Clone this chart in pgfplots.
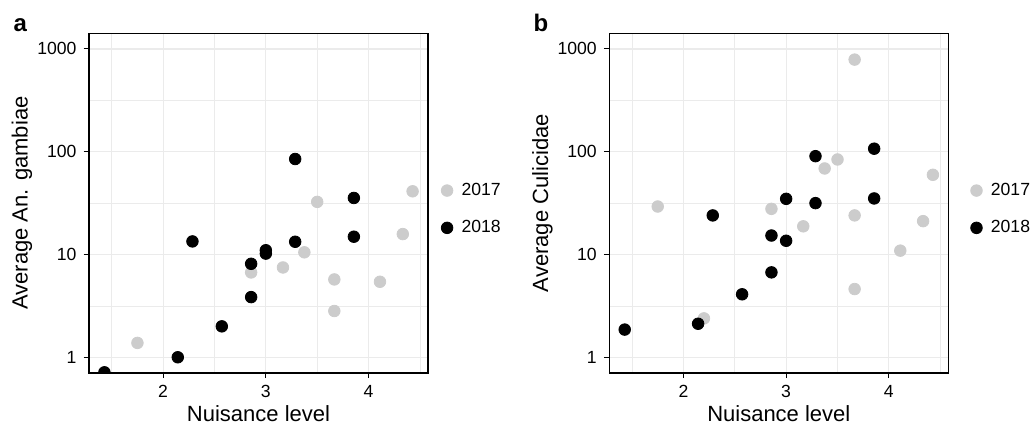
\documentclass[border=0pt]{standalone}
\usepackage{fontspec}
\setmainfont{Liberation Sans}
\usepackage{pgfplots}
\pgfplotsset{compat=1.18}
\definecolor{c17}{RGB}{204,204,204}
\definecolor{gridc}{RGB}{235,235,235}
\pgfplotsset{
  panel/.style={
    width=169.5pt, height=169.6pt, scale only axis,
    xmin=1.2786, xmax=4.5786, ymin=0.70795, ymax=1412.5,
    xtick={2,3,4}, xticklabels={2,3,4},
    ytick={1,10,100,1000}, yticklabels={1,10,100,1000},
    minor xtick={1.5,2.5,3.5,4.5},
    minor ytick={3.1623,31.623,316.23},
    grid=both,
    major grid style={draw=gridc, line width=0.6pt},
    minor grid style={draw=gridc, line width=0.35pt},
    tick align=outside, major tick length=2.75pt, minor tick length=0pt,
    tick style={black, line width=0.55pt},
    axis line style={black, line width=0.8pt},
    tick pos=left,
    tick label style={font=\fontsize{8.8pt}{10pt}\selectfont, /pgf/number format/assume math mode=true},
    label style={font=\fontsize{11pt}{13pt}\selectfont},
    xlabel style={at={(axis description cs:0.5,-0.1445)}, anchor=base},
    ylabel style={at={(axis description cs:-0.1808,0.5)}, anchor=base},
    xlabel={Nuisance level},
    clip marker paths=true,
    legend style={draw=none, fill=none, inner sep=0pt, outer sep=0pt,
      font=\fontsize{8.8pt}{10pt}\selectfont, row sep=11pt, column sep=4.3pt,
      nodes={inner sep=0pt}},
    legend cell align=left,
  },
  s17/.style={only marks, mark=*, mark size=2.9pt, color=c17, mark options={draw=none, fill=c17}},
  s18/.style={only marks, mark=*, mark size=2.9pt, color=black, mark options={draw=none, fill=black}},
}
\pgfplotsset{legend image code/.code={\draw[#1] plot coordinates {(0pt,0pt)};}}
\begin{document}
\begin{tikzpicture}
\path[use as bounding box] (0,0) rectangle (516pt,212pt);
\begin{axis}[ymode=log, panel, name=pa, at={(44.5pt,25.65pt)}, anchor=south west,
  ylabel={Average An. gambiae},
  legend style={at={(axis description cs:1,0.482)}, anchor=west, xshift=6.65pt}]
\addplot[s17] coordinates {
(1.75,1.38) (2.857,6.69) (3.1667,7.48) (3.375,10.5) (3.5,32.5)
(3.6667,5.72) (3.6667,2.82) (4.1111,5.43) (4.3333,15.8) (4.4286,41.2)};
\addlegendentry{2017}
\addplot[s18] coordinates {
(1.4286,0.714) (2.1429,1.0) (2.2857,13.4) (2.5714,2.0) (2.857,3.85) (2.857,8.12)
(3.0,11.0) (3.0,10.2) (3.2857,84.9) (3.2857,13.3) (3.857,35.5) (3.857,14.9)};
\addlegendentry{2018}
\end{axis}
\draw[black, line width=0.8pt] (pa.south west) rectangle (pa.north east);
\begin{axis}[ymode=log, panel, name=pb, at={(304.65pt,25.65pt)}, anchor=south west,
  ylabel={Average Culicidae},
  legend style={at={(axis description cs:1,0.482)}, anchor=west, xshift=11.2pt}]
\addplot[s17] coordinates {
(1.75,29.3) (2.2,2.39) (2.857,27.8) (3.1667,18.8) (3.375,68.7) (3.5,84)
(3.6667,787) (3.6667,24) (3.6667,4.61) (4.1111,10.9) (4.3333,21.1) (4.4286,59.6)};
\addlegendentry{2017}
\addplot[s18] coordinates {
(1.4286,1.86) (2.1429,2.12) (2.2857,24.0) (2.5714,4.10) (2.857,6.70) (2.857,15.3)
(3.0,13.6) (3.0,34.8) (3.2857,90.5) (3.2857,31.6) (3.857,107) (3.857,35.1)};
\addlegendentry{2018}
\end{axis}
\draw[black, line width=0.8pt] (pb.south west) rectangle (pb.north east);
\node[anchor=base west, inner sep=0pt, font=\bfseries\fontsize{12pt}{14pt}\selectfont] at (6.65pt,196.15pt) {a};
\node[anchor=base west, inner sep=0pt, font=\bfseries\fontsize{12pt}{14pt}\selectfont] at (266.65pt,196.15pt) {b};
\end{tikzpicture}
\end{document}
